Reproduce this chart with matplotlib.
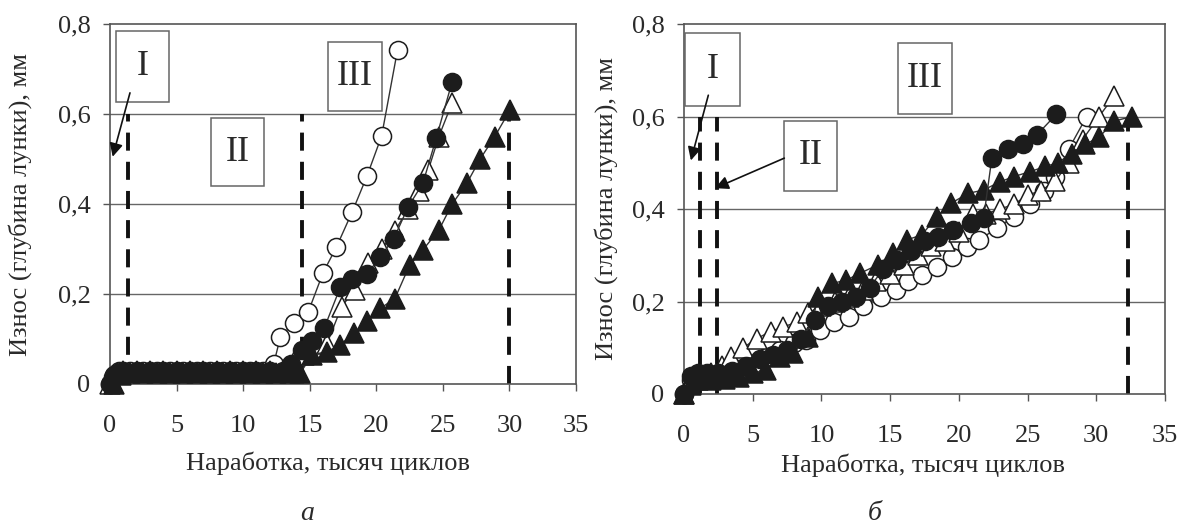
import matplotlib
matplotlib.use('Agg')
import matplotlib.pyplot as plt
from matplotlib.patches import Rectangle

plt.rcParams['font.family'] = ['Liberation Serif', 'DejaVu Serif']
plt.rcParams['lines.scale_dashes'] = False

# ---------------- data ----------------
xticks = [0, 5, 10, 15, 20, 25, 30, 35]
xtick_labels = ['0', '5', '10', '15', '20', '25', '30', '35']
yticks = [0, 0.2, 0.4, 0.6, 0.8]
ytick_labels = ['0', '0,2', '0,4', '0,6', '0,8']
xlabel = 'Наработка, тысяч циклов'
ylabel = 'Износ (глубина лунки), мм'
panel_labels = ['а', 'б']
stage_labels = ['I', 'II', 'III']

# panel a
a_open_circ_x = [0, 0.3, 0.7, 1.5, 2.5, 3.5, 4.5, 5.5, 6.5, 7.5, 8.5, 9.5, 10.5, 11.5,
                 12.3, 12.8, 13.8, 14.9, 16.0, 17.0, 18.2, 19.3, 20.4, 21.6]
a_open_circ_y = [0, 0.02, 0.03, 0.03, 0.03, 0.03, 0.03, 0.03, 0.03, 0.03, 0.03, 0.03, 0.03, 0.03,
                 0.045, 0.105, 0.135, 0.161, 0.247, 0.304, 0.383, 0.462, 0.551, 0.743]

a_fill_circ_x = [0, 0.2, 0.5, 1, 2, 3, 4, 5, 6, 7, 8, 9, 10, 11, 12, 13,
                 13.6, 14.4, 15.2, 16.1, 17.3, 18.2, 19.3, 20.3, 21.3, 22.4, 23.5, 24.5, 25.7]
a_fill_circ_y = [0, 0.015, 0.025, 0.03, 0.03, 0.03, 0.03, 0.03, 0.03, 0.03, 0.03, 0.03, 0.03, 0.03, 0.03, 0.03,
                 0.045, 0.075, 0.095, 0.125, 0.215, 0.233, 0.244, 0.283, 0.322, 0.394, 0.446, 0.546, 0.672]

a_open_tri_x = [0, 0.5, 1, 2, 3, 4, 5, 6, 7, 8, 9, 10, 11, 12, 13,
                13.8, 14.6, 15.5, 16.3, 17.4, 18.4, 19.4, 20.4, 21.4, 22.4, 23.2, 23.9, 24.7, 25.7]
a_open_tri_y = [0, 0.025, 0.03, 0.03, 0.03, 0.03, 0.03, 0.03, 0.03, 0.03, 0.03, 0.03, 0.03, 0.03, 0.03,
                0.05, 0.065, 0.075, 0.09, 0.172, 0.21, 0.27, 0.3, 0.34, 0.39, 0.43, 0.475, 0.55, 0.625]

a_fill_tri_x = [0.3, 0.8, 1.5, 2.5, 3.5, 4.5, 5.5, 6.5, 7.5, 8.5, 9.5, 10.5, 11.5, 12.5, 13.5,
                14.3, 15.2, 16.3, 17.3, 18.3, 19.3, 20.3, 21.4, 22.5, 23.5, 24.7, 25.7, 26.8, 27.8, 28.9, 30.05]
a_fill_tri_y = [0, 0.02, 0.025, 0.025, 0.025, 0.025, 0.025, 0.025, 0.025, 0.025, 0.025, 0.025, 0.025, 0.025, 0.025,
                0.025, 0.065, 0.072, 0.087, 0.113, 0.139, 0.168, 0.19, 0.264, 0.298, 0.342, 0.40, 0.446, 0.50, 0.55, 0.609]

# panel b
b_open_circ_x = [0, 0.5, 1, 2, 3, 4, 5, 6, 7, 8, 8.9, 9.9, 10.9, 12.0, 13.0, 14.3, 15.4, 16.3,
                 17.3, 18.4, 19.5, 20.6, 21.5, 22.8, 24.0, 25.2, 26.2, 27.0, 28.0, 29.3]
b_open_circ_y = [0, 0.03, 0.04, 0.04, 0.045, 0.055, 0.065, 0.08, 0.095, 0.11, 0.117, 0.138, 0.156, 0.167,
                 0.19, 0.21, 0.225, 0.245, 0.257, 0.275, 0.297, 0.318, 0.333, 0.36, 0.383, 0.41, 0.44,
                 0.47, 0.53, 0.6]

b_open_tri_x = [0, 0.5, 1, 2, 2.8, 3.4, 4.3, 5.3, 6.3, 7.2, 8.2, 9.0, 10, 11, 12, 13, 14, 15, 16,
                17, 18, 19, 20, 21, 22, 23, 24, 25, 26, 27, 28, 29, 30.2, 31.3]
b_open_tri_y = [0, 0.03, 0.04, 0.045, 0.06, 0.08, 0.1, 0.12, 0.135, 0.145, 0.155, 0.175, 0.19, 0.2,
                0.21, 0.225, 0.245, 0.26, 0.28, 0.3, 0.32, 0.33, 0.35, 0.39, 0.39, 0.4, 0.41, 0.43,
                0.44, 0.46, 0.5, 0.55, 0.6, 0.644]

b_fill_tri_x = [0, 0.5, 1, 2, 3, 4, 5, 6, 7.0, 7.95, 9.05, 9.77, 10.75, 11.8, 12.8, 14.1, 15.2, 16.2,
                17.3, 18.4, 19.4, 20.7, 21.8, 23.0, 24.0, 25.2, 26.3, 27.2, 28.2, 29.2, 30.2, 31.3, 32.6]
b_fill_tri_y = [0, 0.02, 0.03, 0.03, 0.033, 0.036, 0.045, 0.052, 0.081, 0.088, 0.124, 0.21, 0.239,
                0.246, 0.261, 0.279, 0.304, 0.333, 0.344, 0.383, 0.412, 0.434, 0.441, 0.459, 0.47,
                0.481, 0.492, 0.5, 0.52, 0.54, 0.555, 0.59, 0.6]

b_fill_circ_x = [0, 0.5, 1, 1.7, 2.5, 3.5, 4.5, 5.5, 6.5, 7.5, 8.5, 9.5, 10.5, 11.5, 12.5, 13.5,
                 14.5, 15.5, 16.5, 17.5, 18.5, 19.6, 20.9, 21.8, 22.4, 23.6, 24.7, 25.7, 27.1]
b_fill_circ_y = [0, 0.04, 0.045, 0.045, 0.045, 0.05, 0.06, 0.075, 0.085, 0.095, 0.12, 0.16, 0.19,
                 0.2, 0.21, 0.23, 0.27, 0.29, 0.31, 0.33, 0.34, 0.355, 0.369, 0.38, 0.51, 0.53,
                 0.54, 0.561, 0.605]

TEXT = '#2a2a2a'
FRAME = '#555555'
DARK = '#1c1c1c'

fig = plt.figure(figsize=(11.77, 5.26), dpi=100)
W, H = 1177.0, 526.0


def px_axes(l, r, t, b):
    return fig.add_axes([l / W, (H - b) / H, (r - l) / W, (b - t) / H])


def style_axes(ax):
    ax.set_xlim(0, 35)
    ax.set_ylim(0, 0.8)
    ax.set_xticks(xticks)
    ax.set_xticklabels(xtick_labels)
    ax.set_yticks(yticks)
    ax.set_yticklabels(ytick_labels)
    for s in ax.spines.values():
        s.set_color(FRAME)
        s.set_linewidth(1.2)
    ax.tick_params(axis='both', direction='out', length=5, width=1.0, color=FRAME,
                   labelcolor=TEXT, labelsize=19)
    ax.tick_params(axis='x', pad=17)
    ax.tick_params(axis='y', pad=9)
    for yv in yticks[1:-1]:
        ax.axhline(yv, color='#666666', lw=1.0, zorder=1)


def draw_series(ax, xs, ys, marker, filled, z):
    ax.plot(xs, ys, color='#333333', lw=1.0, marker=marker, ms=13 if marker == 'o' else 14,
            mfc=DARK if filled else 'white', mec=DARK, mew=1.1, zorder=z, clip_on=False)


def box(ax, x0, y0, x1, y1, label):
    ax.add_patch(Rectangle((x0, y0), x1 - x0, y1 - y0, fc='white', ec='#666666', lw=1.1, zorder=6))
    ax.text((x0 + x1) / 2, (y0 + y1) / 2, label, ha='center', va='center', fontsize=26,
            color=TEXT, zorder=7)


def arrow(ax, xy_from, xy_to):
    ax.annotate('', xy=xy_to, xytext=xy_from,
                arrowprops=dict(arrowstyle='-|>', color='#111111', lw=1.2, mutation_scale=20,
                                shrinkA=0, shrinkB=0), zorder=8, annotation_clip=False)


def vdash(ax, x):
    ax.plot([x, x], [0, 0.6], color='#111111', lw=2.8, dashes=(13, 8), zorder=2,
            solid_capstyle='butt', dash_capstyle='butt')


# ---------- panel a ----------
ax1 = px_axes(110, 576, 24, 384)
style_axes(ax1)
for x in (1.35, 14.4, 30.0):
    vdash(ax1, x)
draw_series(ax1, a_open_circ_x, a_open_circ_y, 'o', False, 3)
draw_series(ax1, a_open_tri_x, a_open_tri_y, '^', False, 4)
draw_series(ax1, a_fill_tri_x, a_fill_tri_y, '^', True, 4.5)
draw_series(ax1, a_fill_circ_x, a_fill_circ_y, 'o', True, 5)
box(ax1, 0.42, 0.626, 4.46, 0.784, stage_labels[0])
box(ax1, 7.6, 0.439, 11.6, 0.591, stage_labels[1])
box(ax1, 16.4, 0.606, 20.4, 0.761, stage_labels[2])
arrow(ax1, (1.5, 0.647), (0.2, 0.505))

# ---------- panel b ----------
ax2 = px_axes(684, 1165, 24, 394)
style_axes(ax2)
for x in (1.2, 2.4, 32.3):
    vdash(ax2, x)
draw_series(ax2, b_open_circ_x, b_open_circ_y, 'o', False, 3)
draw_series(ax2, b_open_tri_x, b_open_tri_y, '^', False, 4)
draw_series(ax2, b_fill_tri_x, b_fill_tri_y, '^', True, 4.5)
draw_series(ax2, b_fill_circ_x, b_fill_circ_y, 'o', True, 5)
box(ax2, 0.1, 0.623, 4.1, 0.78, stage_labels[0])
box(ax2, 7.3, 0.44, 11.1, 0.591, stage_labels[1])
box(ax2, 15.6, 0.606, 19.5, 0.76, stage_labels[2])
arrow(ax2, (1.77, 0.646), (0.5, 0.505))
arrow(ax2, (7.3, 0.51), (2.26, 0.445))

# ---------- labels ----------
def ftext(x, y, s, **kw):
    fig.text(x / W, 1 - y / H, s, color=TEXT, **kw)

ftext(20, 204, ylabel, rotation=90, ha='center', va='center', fontsize=19)
ftext(606, 209, ylabel, rotation=90, ha='center', va='center', fontsize=19)
ftext(328, 463, xlabel, ha='center', va='center', fontsize=19)
ftext(923, 465, xlabel, ha='center', va='center', fontsize=19)
ftext(307, 514, panel_labels[0], ha='center', va='center', fontsize=20, style='italic')
ftext(875, 514, panel_labels[1], ha='center', va='center', fontsize=20, style='italic')

fig.savefig('out.png', dpi=100, facecolor='white')
